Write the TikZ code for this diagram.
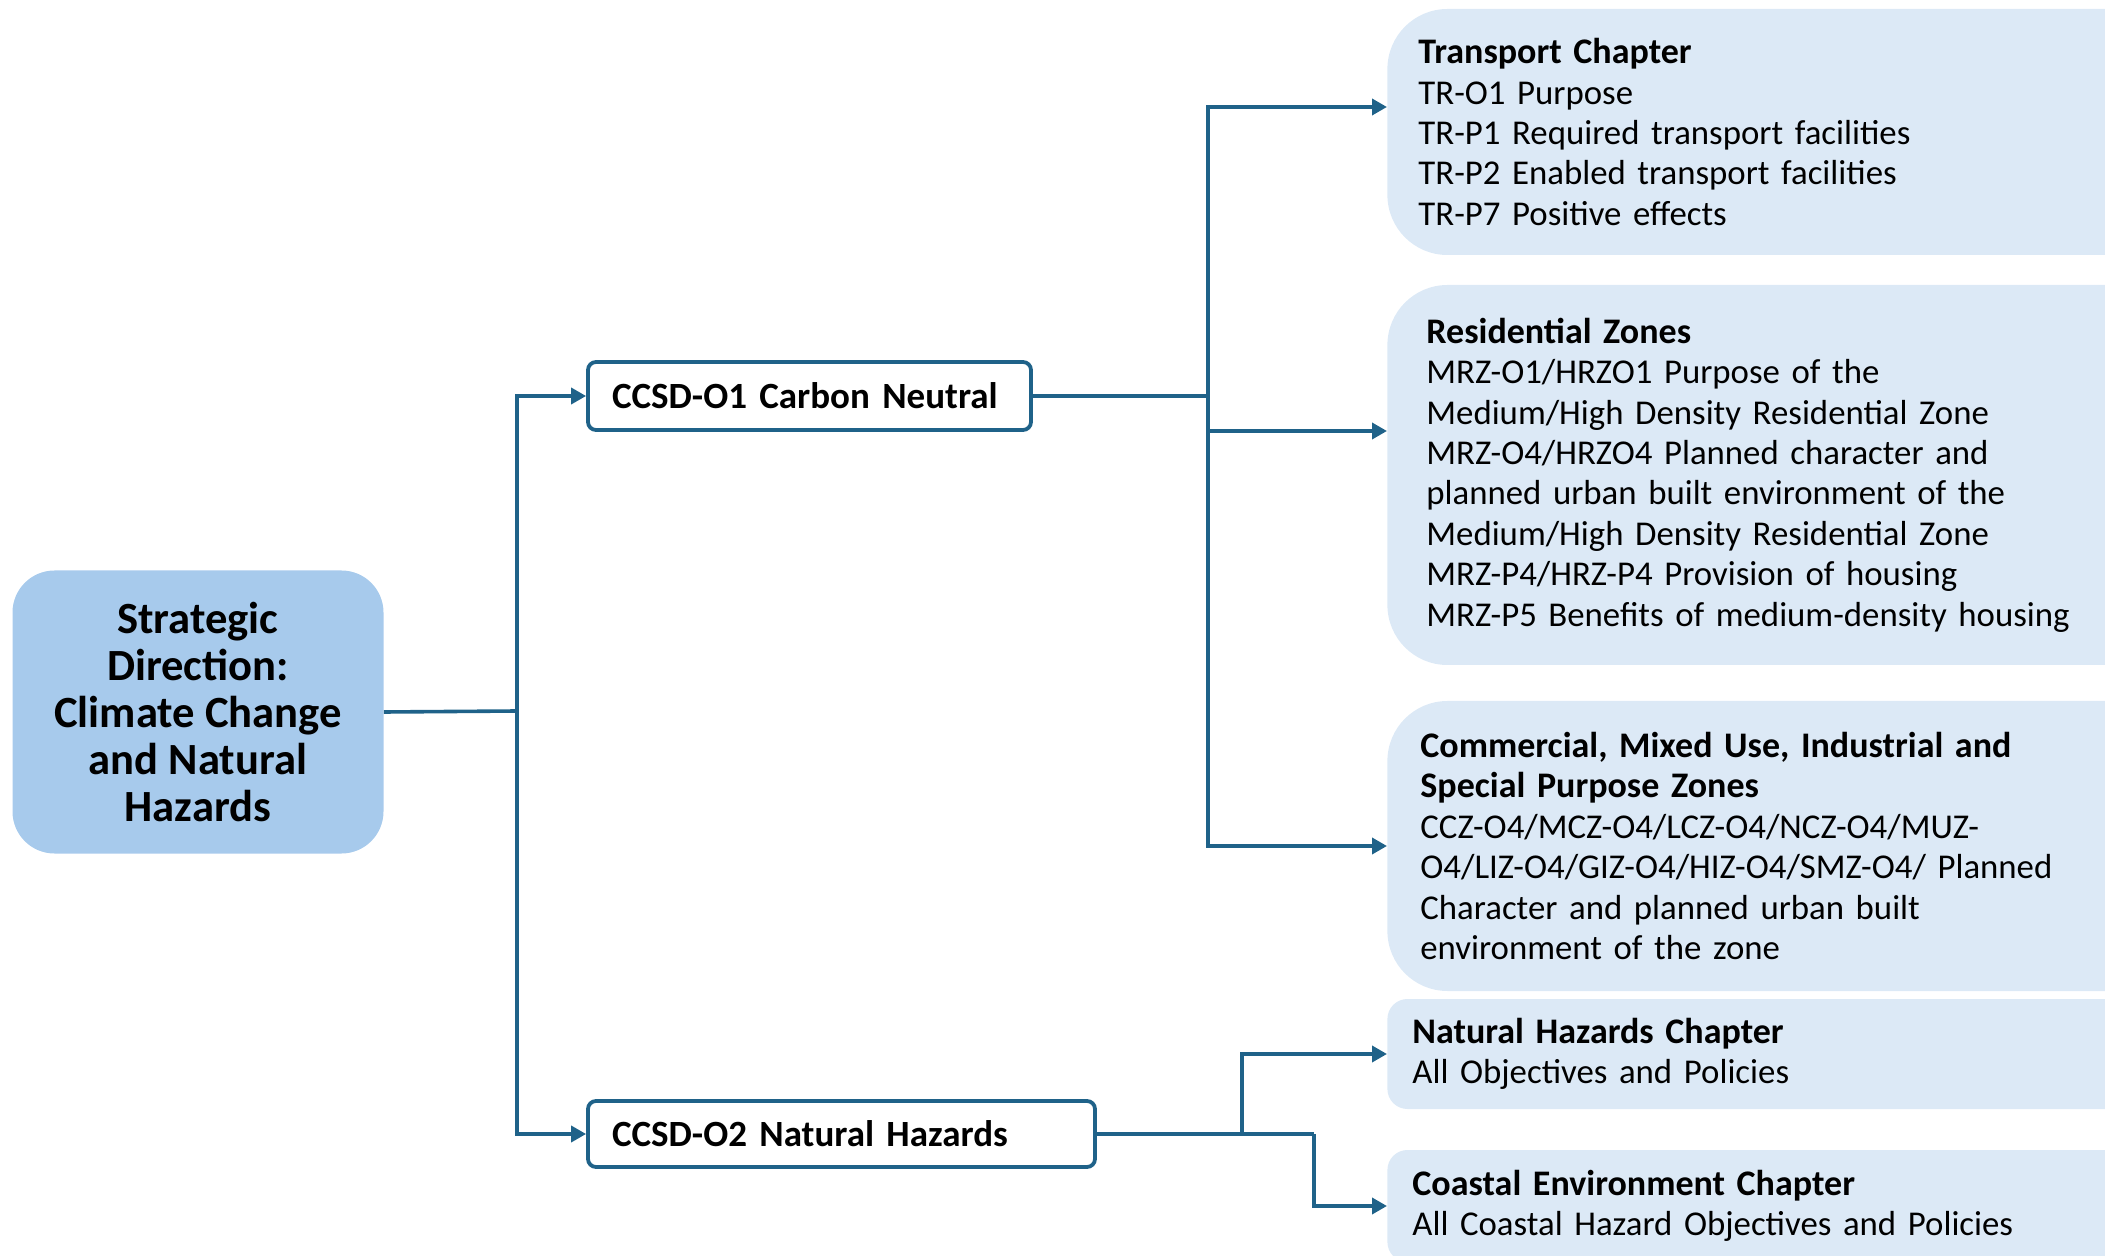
\documentclass[tikz,border=0pt]{standalone}
\usepackage{fontspec}
\setmainfont{Carlito}
\usepackage{xcolor}
\usetikzlibrary{arrows.meta}
\definecolor{linkblue}{HTML}{1F6289}
\definecolor{rootfill}{HTML}{A7CAEC}
\definecolor{chapfill}{HTML}{DCE9F6}
\newcommand{\chaptitle}[1]{{\fontsize{18}{20.2}\selectfont\bfseries #1}}

\begin{document}
\begin{tikzpicture}[x=0.5pt,y=-0.5pt,
  point/.style={coordinate},
  root/.style={fill=rootfill, rounded corners=21pt, minimum width=185.5pt, minimum height=141.5pt, align=center, font=\fontsize{22.3}{23.5}\selectfont\bfseries},
  objective/.style={draw=linkblue, line width=1.9pt, fill=white, rounded corners=4pt, align=left, inner xsep=12pt, inner ysep=0pt, font=\fontsize{18.5}{20}\selectfont\bfseries},
  chapter/.style={fill=chapfill, anchor=west, align=left, text width=370pt, inner ysep=0pt, font=\fontsize{17.4}{20.2}\selectfont},
  conn/.style={draw=linkblue, line width=1.8pt},
  arr/.style={conn, -{Triangle[length=7.5pt,width=8pt]}}]
\path[use as bounding box, clip] (0,0) rectangle (2105,1256);
% left column
\node[root] (root) at (198,712) {Strategic\\Direction:\\Climate Change\\and Natural\\Hazards};
\node[objective, text width=197.5pt, minimum height=34pt] (o1) at (809.5,396) {CCSD-O1 Carbon Neutral};
\node[objective, text width=229.5pt, minimum height=33pt] (o2) at (841.5,1134) {CCSD-O2 Natural Hazards};
% chapters
\node[chapter, rounded corners=30pt, inner xsep=15.5pt, minimum height=123pt] (transport) at (1387,132)
  {\chaptitle{Transport Chapter}\\TR-O1 Purpose\\TR-P1 Required transport facilities\\TR-P2 Enabled transport facilities\\TR-P7 Positive effects};
\node[chapter, rounded corners=30pt, inner xsep=19.5pt, minimum height=190pt] (resid) at (1387,475)
  {\chaptitle{Residential Zones}\\MRZ-O1/HRZO1 Purpose of the\\Medium/High Density Residential Zone\\MRZ-O4/HRZO4 Planned character and\\planned urban built environment of the\\Medium/High Density Residential Zone\\MRZ-P4/HRZ-P4 Provision of housing\\MRZ-P5 Benefits of medium-density housing};
\node[chapter, rounded corners=30pt, inner xsep=16.5pt, minimum height=145pt] (comm) at (1387,846)
  {\chaptitle{Commercial, Mixed Use, Industrial and}\\\chaptitle{Special Purpose Zones}\\CCZ-O4/MCZ-O4/LCZ-O4/NCZ-O4/MUZ-\\O4/LIZ-O4/GIZ-O4/HIZ-O4/SMZ-O4/ Planned\\Character and planned urban built\\environment of the zone};
\node[chapter, rounded corners=10pt, inner xsep=12.5pt, minimum height=55pt] (natural) at (1387,1054)
  {\chaptitle{Natural Hazards Chapter}\\All Objectives and Policies};
\node[chapter, rounded corners=10pt, inner xsep=12.5pt, minimum height=56pt] (coastal) at (1387,1206)
  {\chaptitle{Coastal Environment Chapter}\\All Coastal Hazard Objectives and Policies};
% junctions
\node[point] (j1) at (517,711) {};
\node[point] (j2) at (1208,396) {};
\node[point] (j3) at (1242,1134) {};
\node[point] (j4) at (1314,1134) {};
% connectors
\draw[conn] (root.east) -- (j1);
\draw[arr]  (j1) |- (o1.west);
\draw[arr]  (j1) |- (o2.west);
\draw[conn] (o1.east) -- (j2);
\draw[arr]  (j2) |- ([yshift=12.5pt]transport.west);
\draw[arr]  (j2) |- ([yshift=22pt]resid.west);
\draw[arr]  (j2) |- (comm.west);
\draw[conn] (o2.east) -- (j3);
\draw[arr]  (j3) |- (natural.west);
\draw[conn] (j3) -- (j4);
\draw[arr]  (j4) |- (coastal.west);
\end{tikzpicture}
\end{document}
